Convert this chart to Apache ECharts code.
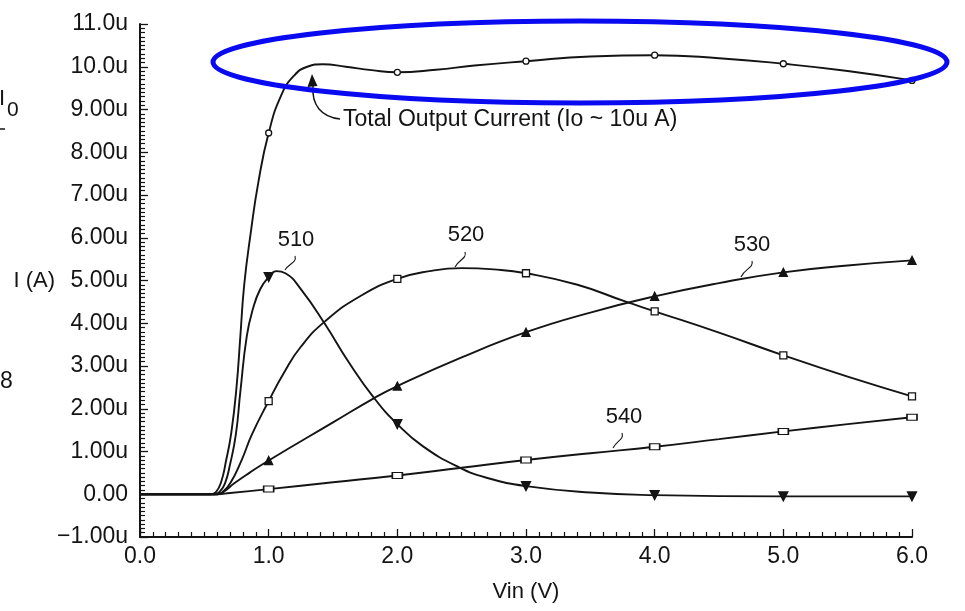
<!DOCTYPE html>
<html>
<head>
<meta charset="utf-8">
<script src="https://cdn.jsdelivr.net/npm/echarts@6/dist/echarts.min.js"></script>
<style>
html,body{margin:0;padding:0;background:#fff;}
#chart{width:965px;height:611px;}
</style>
</head>
<body>
<div id="chart"></div>
<script>
// ---- data ----
const xTickLabels = ['0.0', '1.0', '2.0', '3.0', '4.0', '5.0', '6.0'];
const yTickLabels = ['\u22121.00u', '0.00', '1.00u', '2.00u', '3.00u', '4.00u', '5.00u',
                     '6.00u', '7.00u', '8.00u', '9.00u', '10.0u', '11.0u'];
const xName = 'Vin (V)';
const yName = 'I (A)';

// Vin (V), current (uA)
const totalCurrent = [[0,0],[0.3,0],[0.55,0],[0.59,0.05],[0.63,0.28],[0.67,0.8],[0.71,1.45],[0.75,2.5],
  [0.78,3.7],[0.81,4.9],[0.86,6.1],[0.92,7.3],[1,8.45],[1.1,9.35],[1.2,9.8],[1.3,10.0],[1.42,10.06],
  [1.6,10.0],[1.8,9.92],[2,9.87],[2.3,9.93],[2.6,10.03],[3,10.13],[3.5,10.24],[4,10.27],[4.5,10.2],
  [5,10.07],[5.5,9.9],[6,9.68]];
const current510 = [[0,0],[0.3,0],[0.58,0],[0.62,0.06],[0.66,0.25],[0.7,0.7],[0.745,1.4],[0.78,2.4],
  [0.83,3.7],[0.88,4.36],[0.935,4.8],[1,5.08],[1.06,5.22],[1.13,5.17],[1.25,4.8],[1.44,3.97],[1.62,3.1],
  [1.82,2.25],[2,1.64],[2.2,1.12],[2.48,0.63],[2.7,0.38],[3,0.19],[3.5,0.04],[4,-0.02],[5,-0.05],[6,-0.05]];
const current520 = [[0,0],[0.3,0],[0.6,0],[0.64,0.05],[0.7,0.25],[0.79,0.8],[0.87,1.4],[1,2.18],
  [1.12,2.85],[1.25,3.45],[1.44,4.05],[1.72,4.65],[2,5.04],[2.25,5.22],[2.5,5.29],[2.75,5.26],[3,5.17],
  [3.4,4.9],[3.77,4.51],[4,4.28],[4.5,3.78],[5,3.25],[5.5,2.75],[6,2.29]];
const current530 = [[0,0],[0.3,0],[0.6,0],[0.66,0.08],[0.73,0.25],[0.85,0.5],[1,0.79],[1.5,1.68],
  [1.82,2.25],[2,2.53],[2.5,3.2],[3,3.79],[3.5,4.25],[4,4.63],[4.5,4.94],[5,5.19],[5.5,5.35],[6,5.47]];
const current540 = [[0,0],[0.3,0],[0.6,0],[0.7,0.03],[1,0.12],[1.5,0.28],[2,0.44],[2.5,0.62],[3,0.8],
  [3.5,0.96],[4,1.11],[4.5,1.29],[5,1.47],[5.5,1.64],[6,1.8]];
const seriesNames = ['Total Output Current', '510', '520', '530', '540'];
const markerX = [1, 2, 3, 4, 5, 6];

// ---- chart ----
const FONT = '"Liberation Sans", Arial, Helvetica, sans-serif';
const INK = '#141414';
const chart = echarts.init(document.getElementById('chart'), null, {renderer: 'canvas'});

function markerSymbol(shape) {
  return function (value) {
    return markerX.indexOf(value[0]) >= 0 ? shape : 'none';
  };
}
function curve(name, data, shape, size, rotate, filled) {
  return {
    name: name, type: 'line', data: data,
    smooth: 0.5,
    symbol: markerSymbol(shape), symbolSize: size, symbolRotate: rotate || 0,
    showAllSymbol: true,
    lineStyle: {color: INK, width: 1.9},
    itemStyle: {color: filled ? INK : '#fff', borderColor: INK, borderWidth: 1.3},
    emphasis: {disabled: true},
    z: 3
  };
}

const option = {
  animation: false,
  backgroundColor: '#fff',
  grid: {left: 140, right: 53, top: 24, bottom: 74, containLabel: false},
  xAxis: {
    type: 'value', min: 0, max: 6, interval: 1,
    name: xName, nameLocation: 'middle', nameGap: 44, nameMoveOverlap: false,
    nameTextStyle: {fontFamily: FONT, fontSize: 22, color: INK},
    axisLine: {onZero: false, lineStyle: {color: INK, width: 2}},
    axisTick: {inside: true, length: 8, lineStyle: {color: INK, width: 1.3}},
    minorTick: {show: true, splitNumber: 10, length: 5, lineStyle: {color: INK, width: 1.2}},
    splitLine: {show: false},
    axisLabel: {
      fontFamily: FONT, fontSize: 23, color: INK, margin: 8,
      formatter: function (v) { return xTickLabels[Math.round(v)]; }
    }
  },
  yAxis: {
    type: 'value', min: -1, max: 11, interval: 1,
    name: yName, nameLocation: 'middle', nameRotate: 0, nameGap: 85, nameMoveOverlap: false,
    nameTextStyle: {fontFamily: FONT, fontSize: 22, color: INK},
    axisLine: {onZero: false, lineStyle: {color: INK, width: 2}},
    axisTick: {inside: true, length: 8, lineStyle: {color: INK, width: 1.3}},
    minorTick: {show: true, splitNumber: 10, length: 5, lineStyle: {color: INK, width: 1.2}},
    splitLine: {show: false},
    axisLabel: {
      fontFamily: FONT, fontSize: 23, color: INK, margin: 12,
      formatter: function (v) { return yTickLabels[Math.round(v) + 1]; }
    }
  },
  series: [
    curve(seriesNames[0], totalCurrent, 'circle', 6, 0, false),
    curve(seriesNames[1], current510, 'triangle', 9, 180, true),
    curve(seriesNames[2], current520, 'rect', 7, 0, false),
    curve(seriesNames[3], current530, 'triangle', 8, 0, true),
    curve(seriesNames[4], current540, 'rect', [10, 6], 0, false)
  ],
  graphic: {
    elements: [
      // curve labels with leaders
      {type: 'text', x: 296, y: 240, style: {text: seriesNames[1], font: '22px ' + FONT, fill: INK, align: 'center', verticalAlign: 'middle'}},
      {type: 'bezierCurve', shape: {x1: 295, y1: 256, cpx1: 297, cpy1: 263, cpx2: 289, cpy2: 263, x2: 285, y2: 270}, style: {stroke: INK, lineWidth: 1.1, fill: null}},
      {type: 'text', x: 466, y: 235, style: {text: seriesNames[2], font: '22px ' + FONT, fill: INK, align: 'center', verticalAlign: 'middle'}},
      {type: 'bezierCurve', shape: {x1: 465, y1: 252, cpx1: 467, cpy1: 259, cpx2: 459, cpy2: 259, x2: 455, y2: 267}, style: {stroke: INK, lineWidth: 1.1, fill: null}},
      {type: 'text', x: 752, y: 245, style: {text: seriesNames[3], font: '22px ' + FONT, fill: INK, align: 'center', verticalAlign: 'middle'}},
      {type: 'bezierCurve', shape: {x1: 752, y1: 261, cpx1: 754, cpy1: 268, cpx2: 745, cpy2: 268, x2: 741, y2: 277}, style: {stroke: INK, lineWidth: 1.1, fill: null}},
      {type: 'text', x: 624, y: 417, style: {text: seriesNames[4], font: '22px ' + FONT, fill: INK, align: 'center', verticalAlign: 'middle'}},
      {type: 'bezierCurve', shape: {x1: 622, y1: 433, cpx1: 624, cpy1: 440, cpx2: 617, cpy2: 440, x2: 613, y2: 448}, style: {stroke: INK, lineWidth: 1.1, fill: null}},
      // total output current annotation
      {type: 'text', x: 343, y: 120, style: {text: 'Total Output Current (Io ~ 10u A)', font: '23px ' + FONT, fill: INK, align: 'left', verticalAlign: 'middle'}},
      {type: 'bezierCurve', shape: {x1: 340, y1: 119, cpx1: 322, cpy1: 117, cpx2: 311, cpy2: 106, x2: 313, y2: 84}, style: {stroke: INK, lineWidth: 1.4, fill: null}},
      {type: 'polygon', shape: {points: [[312, 74], [307.5, 87], [317.5, 86]]}, style: {fill: INK}},
      // cropped page residue at left edge
      {type: 'text', x: -1, y: 99, style: {text: 'I', font: '22px ' + FONT, fill: INK, align: 'left', verticalAlign: 'middle'}},
      {type: 'text', x: 7, y: 110, style: {text: '0', font: '21px ' + FONT, fill: INK, align: 'left', verticalAlign: 'middle'}},
      {type: 'line', shape: {x1: 0, y1: 129, x2: 5, y2: 129}, style: {stroke: INK, lineWidth: 1.5}},
      {type: 'text', x: 0, y: 382, style: {text: '8', font: '23px ' + FONT, fill: INK, align: 'left', verticalAlign: 'middle'}},
      // blue hand-drawn ellipse highlight
      {type: 'ellipse', shape: {cx: 580, cy: 62, rx: 367, ry: 41}, style: {stroke: '#0a0af0', lineWidth: 5, fill: null}, z: 100}
    ]
  }
};
chart.setOption(option);
</script>
</body>
</html>
